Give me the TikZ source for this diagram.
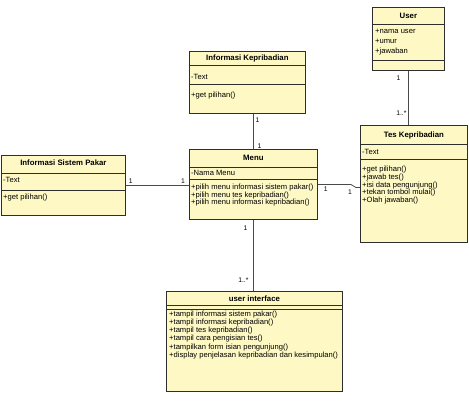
\documentclass[tikz,border=0pt]{standalone}
\usepackage{fontspec}
\setmainfont{Liberation Sans}
\usepackage{tikz}
\usetikzlibrary{positioning,calc}
\definecolor{ckelas}{HTML}{FEF9C4}
\definecolor{cgaris}{HTML}{2E2E2E}
\definecolor{crelasi}{HTML}{4A4A4A}
\tikzset{
  kelas/.style={rectangle, draw=cgaris, fill=ckelas, line width=0.8pt,
    anchor=north west, inner sep=0pt},
  judul/.style={font=\bfseries\fontsize{7.8}{8}\selectfont, inner sep=0pt},
  isi/.style={font=\fontsize{7.6}{7.4}\selectfont, align=left,
    anchor=north west, inner sep=0pt},
  sekat/.style={draw=cgaris, line width=0.7pt},
  relasi/.style={draw=crelasi, line width=0.8pt},
  mult/.style={font=\fontsize{6.8}{7}\selectfont, inner sep=0.5pt},
}

\begin{document}
\begin{tikzpicture}[x=1pt, y=-1pt]
  \useasboundingbox (0,0) rectangle (469,404);
  % kelas User
  \node[kelas, minimum width=72pt, minimum height=63pt] (user) at (372,7) {};
  \node[judul] (userj) at ($(user.north)+(0,8.5)$) {User};
  \draw[sekat] ($(user.north west)+(0,17)$) -- ($(user.north east)+(0,17)$);
  \node[isi, font=\fontsize{7.6}{10}\selectfont] (usera) at ($(user.north west)+(3,22)$) {+nama user\\+umur\\+jawaban};
  \draw[sekat] ($(user.north west)+(0,53)$) -- ($(user.north east)+(0,53)$);
  % kelas Informasi Kepribadian
  \node[kelas, minimum width=116pt, minimum height=62pt] (infokep) at (189,51) {};
  \node[judul] (infokepj) at ($(infokep.north)+(0,7)$) {Informasi Kepribadian};
  \draw[sekat] ($(infokep.north west)+(0,14)$) -- ($(infokep.north east)+(0,14)$);
  \node[isi] (infokepa) at ($(infokep.north west)+(2,23)$) {-Text};
  \draw[sekat] ($(infokep.north west)+(0,33)$) -- ($(infokep.north east)+(0,33)$);
  \node[isi] (infokepm) at ($(infokep.north west)+(2,41)$) {+get pilihan()};
  % kelas Informasi Sistem Pakar
  \node[kelas, minimum width=124pt, minimum height=60pt] (isp) at (1,155) {};
  \node[judul] (ispj) at ($(isp.north)+(0,8)$) {Informasi Sistem Pakar};
  \draw[sekat] ($(isp.north west)+(0,18)$) -- ($(isp.north east)+(0,18)$);
  \node[isi] (ispa) at ($(isp.north west)+(2,22)$) {-Text};
  \draw[sekat] ($(isp.north west)+(0,35)$) -- ($(isp.north east)+(0,35)$);
  \node[isi] (ispm) at ($(isp.north west)+(2,39)$) {+get pilihan()};
  % kelas Menu
  \node[kelas, minimum width=128pt, minimum height=70pt] (menu) at (189,149) {};
  \node[judul] (menuj) at ($(menu.north)+(0,8.5)$) {Menu};
  \draw[sekat] ($(menu.north west)+(0,18)$) -- ($(menu.north east)+(0,18)$);
  \node[isi] (menua) at ($(menu.north west)+(2,21)$) {-Nama Menu};
  \draw[sekat] ($(menu.north west)+(0,30)$) -- ($(menu.north east)+(0,30)$);
  \node[isi] (menum) at ($(menu.north west)+(2,35)$) {+pilih menu informasi sistem pakar()\\+pilih menu tes kepribadian()\\+pilih menu informasi kepribadian()};
  % kelas Tes Kepribadian
  \node[kelas, minimum width=107pt, minimum height=117pt] (tes) at (360,125) {};
  \node[judul] (tesj) at ($(tes.north)+(0,10)$) {Tes Kepribadian};
  \draw[sekat] ($(tes.north west)+(0,19)$) -- ($(tes.north east)+(0,19)$);
  \node[isi] (tesa) at ($(tes.north west)+(2,24)$) {-Text};
  \draw[sekat] ($(tes.north west)+(0,34)$) -- ($(tes.north east)+(0,34)$);
  \node[isi, font=\fontsize{7.6}{7.7}\selectfont] (tesm) at ($(tes.north west)+(2,41)$) {+get pilihan()\\+jawab tes()\\+isi data pengunjung()\\+tekan tombol mulai()\\+Olah jawaban()};
  % kelas user interface
  \node[kelas, minimum width=176pt, minimum height=100pt] (ui) at (166,291) {};
  \node[judul] (uij) at ($(ui.north)+(0,8)$) {user interface};
  \draw[sekat] ($(ui.north west)+(0,14)$) -- ($(ui.north east)+(0,14)$);
  \draw[sekat] ($(ui.north west)+(0,18)$) -- ($(ui.north east)+(0,18)$);
  \node[isi, font=\fontsize{7.6}{7}\selectfont] (uim) at ($(ui.north west)+(3,20)$) {+tampil informasi sistem pakar()\\+tampil informasi kepribadian()\\+tampil tes kepribadian()\\+tampil cara pengisian tes()\\+tampilkan form isian pengunjung()\\+display penjelasan kepribadian dan kesimpulan()};
  % relasi
  \draw[relasi] (user.south) -- (user.south |- tes.north);
  \draw[relasi] (menu.north |- infokep.south) -- (menu.north);
  \draw[relasi] (isp.east) -- (isp.east -| menu.west);
  \draw[relasi] (menu.east) -- ++(33,0) -- ++(5,3) coordinate (tk) -- (tk -| tes.west);
  \draw[relasi] (menu.south) -- (menu.south |- ui.north);
  % multiplisitas
  \node[mult] (m1) at ($(user.south)+(-10,7)$) {1};
  \node[mult] (m2) at ($(user.south |- tes.north)+(-7,-12)$) {1..*};
  \node[mult] (m3) at ($(menu.north |- infokep.south)+(4,6)$) {1};
  \node[mult] (m4) at ($(menu.north)+(6,-3)$) {1};
  \node[mult] (m5) at ($(isp.east)+(5,-4)$) {1};
  \node[mult] (m6) at ($(isp.east -| menu.west)+(-6,-4)$) {1};
  \node[mult] (m7) at ($(menu.east)+(8,5)$) {1};
  \node[mult] (m8) at ($(tk -| tes.west)+(-10,5)$) {1};
  \node[mult] (m9) at ($(menu.south)+(-8,8)$) {1};
  \node[mult] (m10) at ($(menu.south |- ui.north)+(-10,-11)$) {1..*};
\end{tikzpicture}
\end{document}
